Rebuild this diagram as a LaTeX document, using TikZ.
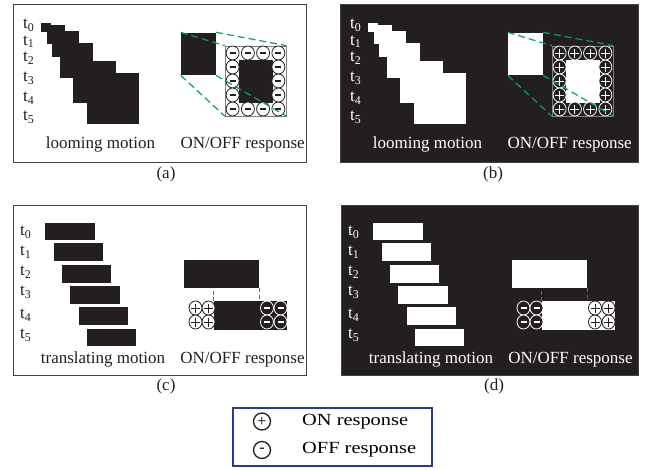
\documentclass[tikz,border=0pt]{standalone}
\usepackage{fontspec}
\setmainfont{Liberation Serif}
\usepackage{graphicx}
\usetikzlibrary{positioning}
\definecolor{ink}{RGB}{35,31,32}
\definecolor{dgreen}{RGB}{0,166,81}
\definecolor{legblue}{RGB}{43,57,144}

\tikzset{
  pics/plus/.style args={#1/#2}{code={
    \draw[draw=#1,fill=#2,line width=0.8pt] (0,0) ellipse [x radius=6.5,y radius=7];
    \draw[draw=#1,line width=0.9pt] (-4.5,0) -- (4.5,0) (0,-4.5) -- (0,4.5);
  }},
  pics/minus/.style args={#1/#2}{code={
    \draw[draw=#1,fill=#2,line width=0.8pt] (0,0) ellipse [x radius=6.5,y radius=7];
    \draw[draw=#1,line width=2pt] (-3,0) -- (3,0);
  }}
}

\begin{document}
\begin{tikzpicture}[x=1pt,y=-1pt,inner sep=0pt,
  txt/.style={font=\fontsize{17}{20}\selectfont},
  frame/.style={draw=ink!85,line width=1pt},
  gline/.style={draw=dgreen,line width=1.2pt,dash pattern=on 7pt off 4pt},
  keysign/.style={draw=ink,circle,line width=1.3pt,minimum size=17pt,font=\fontsize{16}{16}\selectfont},
  blob/.style={fill=#1,anchor=north west}]
\useasboundingbox (0,0) rectangle (651,469);

% looming motion: (a) dark object, (b) bright object
\foreach \p/\dx/\fg/\bg/\sgn/\R in {a/0/ink/white/minus/306, b/327/white/ink/plus/311}{
  \begin{scope}[shift={(\dx,0)},text=\fg]
  \draw[frame,fill=\bg] (13,4) rectangle (\R,162);
  \foreach \l/\t/\w/\h [count=\i from 0] in {40.7/22.3/10/9.5, 46.7/25/18.3/18.3,
      51.7/30.7/26.6/26, 59.3/42.7/33.4/34.6, 72.7/61/43.3/41.7, 86.7/72.7/51.6/51.3}
    \node[blob=\fg,minimum width=\w,minimum height=\h] (st_\p\i) at (\l,\t) {};
  \foreach \y [count=\i from 0] in {25,41.7,58,78,98,117}
    \node[txt,anchor=west] (t_\p\i) at (23,\y) {t\textsubscript{\i}};
  \node[txt,anchor=base] (mot_\p) at (100.5,148.5) {looming motion};
  \node[txt,anchor=base] (resp_\p) at (242.7,148.5) {ON/OFF response};
  \node[txt,anchor=base,text=ink] (cap_\p) at (166,178.5) {(\p)};

  \node[blob=\fg,minimum width=35,minimum height=42.7] (obj_\p) at (180.7,32.3) {};
  \node[fill=\bg,draw=gray,line width=0.6pt,anchor=north west,
        minimum width=61,minimum height=70] (ring_\p) at (225,45.7) {};
  \node[blob=\fg,minimum width=34.4,minimum height=42.3] (core_\p) at (238.3,60) {};
  \foreach \x in {232.6,247.9,263.1,278.4}
    \path (\x,53) pic {\sgn=\fg/\bg} (\x,109) pic {\sgn=\fg/\bg};
  \foreach \y in {67,81,95}
    \path (232.6,\y) pic {\sgn=\fg/\bg} (278.4,\y) pic {\sgn=\fg/\bg};

  \draw[gline] (obj_\p.north west) -- (ring_\p.north west);
  \draw[gline] (obj_\p.north east) -- (ring_\p.north east);
  \draw[gline] (obj_\p.south west) -- (ring_\p.south west);
  \draw[gline] (obj_\p.south east) -- (ring_\p.south east);
  \end{scope}
}

% translating motion: (c) dark bar, (d) bright bar
\foreach \p/\dx/\fg/\bg/\sl/\sr/\R in {c/0/ink/white/plus/minus/306, d/328/white/ink/minus/plus/310}{
  \begin{scope}[shift={(\dx,0)},text=\fg]
  \draw[frame,fill=\bg] (13,205) rectangle (\R,375);
  \foreach \l/\t [count=\i from 0] in {45/222.3, 53.3/242.7, 61.7/265, 70/286, 78.3/306.7, 86.7/328.3}
    \node[blob=\fg,minimum width=49.3,minimum height=17.7] (bar_\p\i) at (\l,\t) {};
  \foreach \y [count=\i from 0] in {232,252,272,292,315,335}
    \node[txt,anchor=west] (t_\p\i) at (20,\y) {t\textsubscript{\i}};
  \node[txt,anchor=base] (mot_\p) at (103,363) {translating motion};
  \node[txt,anchor=base] (resp_\p) at (242.5,363) {ON/OFF response};
  \node[txt,anchor=base,text=ink] (cap_\p) at (166,390.5) {(\p)};

  \node[blob=\fg,minimum width=75,minimum height=28.4] (old_\p) at (184,259.3) {};
  \node[blob=\fg,minimum width=73.5,minimum height=28.3] (new_\p) at (213.5,301) {};
  \foreach \y in {308,322}{
    \path (195.5,\y) pic {\sl=\fg/\bg} (208.5,\y) pic {\sl=\fg/\bg};
    \path (267,\y) pic {\sr=\bg/\fg} (280.5,\y) pic {\sr=\bg/\fg};
  }
  \draw[gline,dash pattern=on 4pt off 2.5pt] (new_\p.north west) -- (new_\p.north west |- old_\p.south);
  \draw[gline,dash pattern=on 4pt off 2.5pt] (old_\p.south east) -- (old_\p.south east |- new_\p.north);
  \end{scope}
}

% legend
\draw[legblue,line width=1.6pt] (233,408) rectangle (432,466);
\node[keysign] (key_on) at (262,421.5) {+};
\node[keysign] (key_off) at (262,450) {-};
\node[txt,anchor=west] (lab_on) at (302,421.5) {\scalebox{1.2}[1]{ON response}};
\node[txt,anchor=west] (lab_off) at (302,450) {\scalebox{1.2}[1]{OFF response}};
\end{tikzpicture}
\end{document}
